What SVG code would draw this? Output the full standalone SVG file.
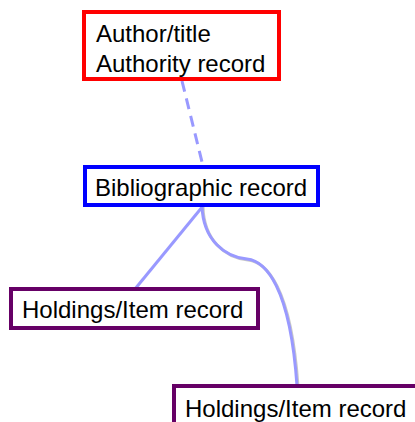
<svg xmlns="http://www.w3.org/2000/svg" width="415" height="422" viewBox="0 0 415 422">
<style>
  .box { fill: #ffffff; stroke-width: 4; }
  .lbl { font-family: "Liberation Sans", Arial, sans-serif; font-size: 24px; fill: #000000; }
  .conn { fill: none; stroke: #9999ff; stroke-width: 3; }
  .shadow { fill: none; stroke: #c8c8c8; stroke-width: 3; }
</style>
<rect x="0" y="0" width="415" height="422" fill="#ffffff"/>
<g id="connectors">
  <path class="conn" d="M182,81 L203,166" stroke-dasharray="11 7"/>
  <path class="conn" d="M203,206 L135,289"/>
  <path class="shadow" d="M203,207 C204,241 226,258 248,260 C266,262 291,286 298,386"/>
  <path class="conn" d="M202,206 C203,240 225,257 247,259 C265,261 290,285 297,386"/>
</g>
<g id="authority">
  <rect class="box" x="84" y="12" width="195" height="67" stroke="#ff0000"/>
  <text class="lbl" x="96" y="42">Author/title</text>
  <text class="lbl" x="96" y="72">Authority record</text>
</g>
<g id="bibliographic">
  <rect class="box" x="85" y="167" width="233" height="38" stroke="#0000ff"/>
  <text class="lbl" x="95" y="196">Bibliographic record</text>
</g>
<g id="holdings1">
  <rect class="box" x="11" y="289" width="247" height="39" stroke="#660066"/>
  <text class="lbl" x="22" y="318">Holdings/Item record</text>
</g>
<g id="holdings2">
  <rect class="box" x="174" y="386" width="250" height="42" stroke="#660066"/>
  <text class="lbl" x="185" y="417">Holdings/Item record</text>
</g>
</svg>
